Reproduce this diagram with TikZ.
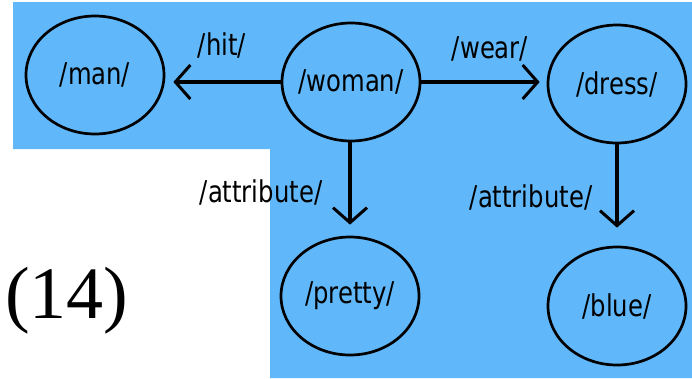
\documentclass[tikz,border=0pt]{standalone}
\usepackage{fontspec}
\setmainfont{Liberation Serif}
\newfontfamily\labelfont{DejaVu Sans Condensed}[FakeStretch=0.9]
\usetikzlibrary{positioning,shapes.geometric,arrows.meta}
\definecolor{skyblue}{RGB}{96,184,250}
\tikzset{font=\labelfont\fontsize{30}{34}\selectfont}
\tikzset{concept/.style={ellipse, draw, line width=2.7pt, minimum width=138pt, minimum height=118pt, inner xsep=-6pt, inner ysep=0pt}}
\tikzset{rel/.style={line width=4.4pt, -{Straight Barb[length=15pt, width=34pt, line width=3pt]}}}

\begin{document}
\begin{tikzpicture}[x=1pt, y=-1pt]
	\useasboundingbox (0, 0) rectangle (692, 378);
	\fill [skyblue] (13, 2) -- (692, 2) -- (692, 378) -- (270, 378) -- (270, 149) -- (13, 149) -- cycle;

	\node [concept] (man) at (95, 75) {/man/};
	\node [concept] (woman) at (351, 82) {/woman/};
	\node [concept] (dress) at (617, 84) {/dress/};
	\node [concept] (pretty) at (350, 296) {/pretty/};
	\node [concept] (blue) at (617, 306) {/blue/};

	\node [anchor=base, inner sep=0pt] (hit) at (222, 55) {/hit/};
	\node [anchor=base, inner sep=0pt] (wear) at (490, 58) {/wear/};
	\node [anchor=base, inner sep=0pt] (attr1) at (261, 202) {/attribute/};
	\node [anchor=base, inner sep=0pt] (attr2) at (531, 207) {/attribute/};

	\node [anchor=base, inner sep=0pt, font=\rmfamily\fontsize{74}{80}\selectfont] (num) at (67, 318) {(14)};

	\draw [rel, shorten >=8pt] (woman.west) to (woman.west -| man.east);
	\draw [rel, shorten >=7pt] (woman.east) to (woman.east -| dress.west);
	\draw [rel, shorten >=11pt] (woman.south -| pretty.north) to (pretty.north);
	\draw [rel, shorten >=18pt] (dress.south) to (blue.north);
\end{tikzpicture}
\end{document}
